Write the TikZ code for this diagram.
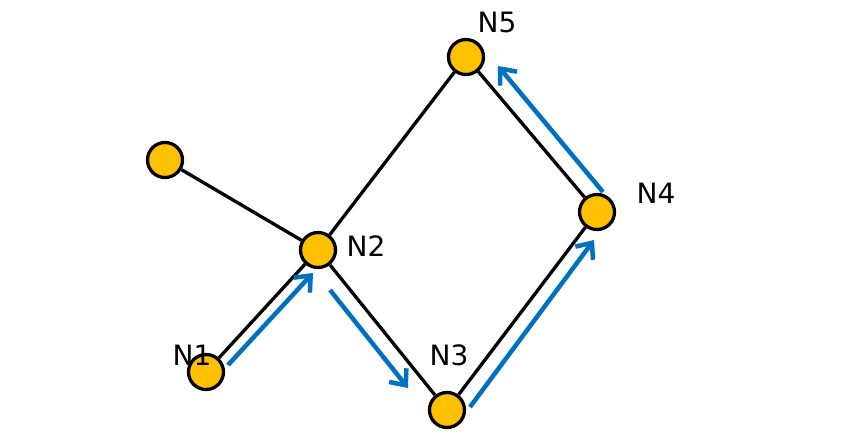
\documentclass[tikz,border=0pt]{standalone}
\usepackage{fontspec}
\setmainfont{DejaVu Sans}
\usetikzlibrary{arrows.meta}
\definecolor{nodeyellow}{HTML}{FFC000}
\definecolor{flowblue}{HTML}{0070C0}
\tikzset{
    dot/.style={draw, fill=nodeyellow, circle, line width=3.3pt, minimum size=35pt, inner sep=0pt},
    lbl/.style={font=\fontsize{28}{32}\selectfont, inner sep=0pt},
    link/.style={line width=3.3pt},
    flow/.style={draw=flowblue, line width=4.5pt, -{Straight Barb[length=13pt, width=22pt, line width=4.5pt]}}
}
\begin{document}
\begin{tikzpicture}[x=1pt, y=-1pt]
    \useasboundingbox (0,0) rectangle (846,444);

    \node[dot] (N0) at (165,160) {};
    \node[dot] (N1) at (206,372) {};
    \node[dot] (N2) at (318,250) {};
    \node[dot] (N3) at (447,410) {};
    \node[dot] (N4) at (597,212) {};
    \node[dot] (N5) at (466,57)  {};

    \node[lbl] (L1) at (192,355) {N1};
    \node[lbl] (L2) at (366,246) {N2};
    \node[lbl] (L3) at (449,355) {N3};
    \node[lbl] (L4) at (656,193) {N4};
    \node[lbl] (L5) at (497,22)  {N5};

    \draw[link] (N0) -- (N2);
    \draw[link] (N1) -- (N2);
    \draw[link] (N2) -- (N3);
    \draw[link] (N2) -- (N5);
    \draw[link] (N3) -- (N4);
    \draw[link] (N4) -- (N5);

    \coordinate (f1s) at (228,365);
    \coordinate (f1e) at (313,273);
    \coordinate (f2s) at (330,290);
    \coordinate (f2e) at (408,388);
    \coordinate (f3s) at (470,407);
    \coordinate (f3e) at (594,240);
    \coordinate (f4s) at (603,192);
    \coordinate (f4e) at (498,66);

    \draw[flow] (f1s) -- (f1e);
    \draw[flow] (f2s) -- (f2e);
    \draw[flow] (f3s) -- (f3e);
    \draw[flow] (f4s) -- (f4e);
\end{tikzpicture}
\end{document}
